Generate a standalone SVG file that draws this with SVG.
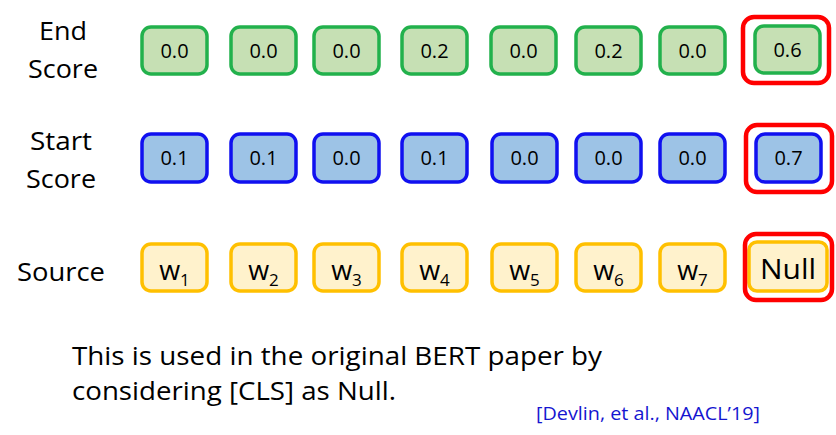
<svg xmlns="http://www.w3.org/2000/svg" width="836" height="435" viewBox="0 0 836 435">
<style>
text{font-family:"Open Sans","Liberation Sans",sans-serif;fill:#000}
.lbl{font-size:26px;text-anchor:middle}
.num{font-size:20px;text-anchor:middle}
.w{font-size:27px;text-anchor:middle}
.sub{font-size:17px}
.g{fill:#c6e0b4;stroke:#22b14c;stroke-width:3.5}
.b{fill:#9dc3e6;stroke:#1010f0;stroke-width:3.5}
.y{fill:#fff2cc;stroke:#ffc000;stroke-width:3.5}
.r{fill:none;stroke:#ff0000;stroke-width:4.5}
.body{font-size:26px}
.cite{font-size:17.5px;fill:#1515d0}
</style>
<g id="labels">
<text class="lbl" x="63" y="40" textLength="48" lengthAdjust="spacingAndGlyphs">End</text>
<text class="lbl" x="63" y="78" textLength="70" lengthAdjust="spacingAndGlyphs">Score</text>
<text class="lbl" x="61" y="150" textLength="62" lengthAdjust="spacingAndGlyphs">Start</text>
<text class="lbl" x="61" y="188" textLength="70" lengthAdjust="spacingAndGlyphs">Score</text>
<text class="lbl" x="61" y="281" textLength="88" lengthAdjust="spacingAndGlyphs">Source</text>
</g>
<g id="end-row">
<rect class="g" x="142" y="27" width="65" height="47" rx="9"/><text class="num" x="174.5" y="58">0.0</text>
<rect class="g" x="231" y="27" width="65" height="47" rx="9"/><text class="num" x="263.5" y="58">0.0</text>
<rect class="g" x="314" y="27" width="65" height="47" rx="9"/><text class="num" x="346.5" y="58">0.0</text>
<rect class="g" x="402" y="27" width="65" height="47" rx="9"/><text class="num" x="434.5" y="58">0.2</text>
<rect class="g" x="491" y="27" width="65" height="47" rx="9"/><text class="num" x="523.5" y="58">0.0</text>
<rect class="g" x="576" y="27" width="65" height="47" rx="9"/><text class="num" x="608.5" y="58">0.2</text>
<rect class="g" x="660" y="27" width="65" height="47" rx="9"/><text class="num" x="692.5" y="58">0.0</text>
<rect class="g" x="755" y="26" width="65" height="47" rx="9"/><text class="num" x="787.5" y="57">0.6</text>
<rect class="r" x="743" y="17" width="86" height="66" rx="11"/>
</g>
<g id="start-row">
<rect class="b" x="142" y="134" width="65" height="48" rx="9"/><text class="num" x="174.5" y="165">0.1</text>
<rect class="b" x="231" y="134" width="65" height="48" rx="9"/><text class="num" x="263.5" y="165">0.1</text>
<rect class="b" x="314" y="134" width="65" height="48" rx="9"/><text class="num" x="346.5" y="165">0.0</text>
<rect class="b" x="402" y="134" width="65" height="48" rx="9"/><text class="num" x="434.5" y="165">0.1</text>
<rect class="b" x="492" y="134" width="65" height="48" rx="9"/><text class="num" x="524.5" y="165">0.0</text>
<rect class="b" x="576" y="134" width="65" height="48" rx="9"/><text class="num" x="608.5" y="165">0.0</text>
<rect class="b" x="660" y="134" width="65" height="48" rx="9"/><text class="num" x="692.5" y="165">0.0</text>
<rect class="b" x="756" y="134" width="65" height="48" rx="9"/><text class="num" x="788.5" y="165">0.7</text>
<rect class="r" x="746" y="125" width="86" height="67" rx="11"/>
</g>
<g id="source-row">
<rect class="y" x="142" y="244" width="65" height="47" rx="9"/><text class="w" x="174.5" y="280">w<tspan class="sub" dy="6">1</tspan></text>
<rect class="y" x="231" y="244" width="65" height="47" rx="9"/><text class="w" x="263.5" y="280">w<tspan class="sub" dy="6">2</tspan></text>
<rect class="y" x="314" y="244" width="65" height="47" rx="9"/><text class="w" x="346.5" y="280">w<tspan class="sub" dy="6">3</tspan></text>
<rect class="y" x="402" y="244" width="65" height="47" rx="9"/><text class="w" x="434.5" y="280">w<tspan class="sub" dy="6">4</tspan></text>
<rect class="y" x="492" y="244" width="65" height="47" rx="9"/><text class="w" x="524.5" y="280">w<tspan class="sub" dy="6">5</tspan></text>
<rect class="y" x="576" y="244" width="65" height="47" rx="9"/><text class="w" x="608.5" y="280">w<tspan class="sub" dy="6">6</tspan></text>
<rect class="y" x="660" y="244" width="65" height="47" rx="9"/><text class="w" x="692.5" y="280">w<tspan class="sub" dy="6">7</tspan></text>
<rect class="y" x="749" y="242" width="78" height="49" rx="8"/><text class="w" x="788" y="279" textLength="56" lengthAdjust="spacingAndGlyphs">Null</text>
<rect class="r" x="745" y="234" width="87" height="66" rx="11"/>
</g>
<g id="caption">
<text class="body" x="72" y="365" textLength="530" lengthAdjust="spacingAndGlyphs">This is used in the original BERT paper by</text>
<text class="body" x="72" y="400" textLength="324" lengthAdjust="spacingAndGlyphs">considering [CLS] as Null.</text>
<text class="cite" x="536" y="420" textLength="224" lengthAdjust="spacingAndGlyphs">[Devlin, et al., NAACL’19]</text>
</g>
</svg>
